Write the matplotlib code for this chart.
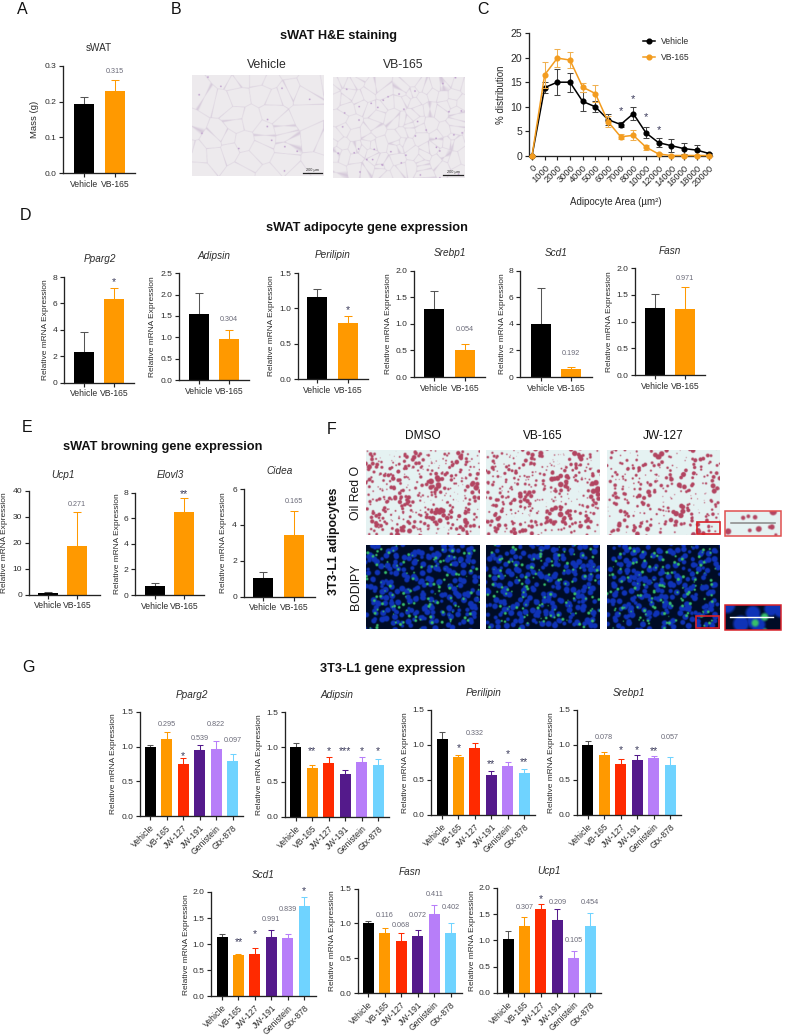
import numpy as np
import matplotlib
matplotlib.use("Agg")
import matplotlib.pyplot as plt
from matplotlib.patches import Rectangle
from matplotlib.lines import Line2D

plt.rcParams['font.family'] = ['Liberation Sans', 'DejaVu Sans']

W, H = 789, 1035
INK = '#2b2b2b'
NOTE = '#6a6a78'
STAR = '#3a3a5a'

# ---------- data ----------
two_groups = ['Vehicle', 'VB-165']
six_groups = ['Vehicle', 'VB-165', 'JW-127', 'JW-191', 'Genistein', 'Gtx-878']
two_colors = ['#000000', '#FF9900']
six_colors = ['#000000', '#FF9900', '#FF2A00', '#541A8B', '#B77EF9', '#6FD3FF']

area_labels = ['0', '1000', '2000', '3000', '4000', '5000', '6000', '7000', '8000',
               '10000', '12000', '14000', '16000', '18000', '20000']
veh_dist = [0, 13.9, 15, 15, 11.1, 10, 7.4, 6.4, 8.6, 4.7, 2.7, 2.1, 1.5, 1.2, 0.5]
veh_err = [0, 1.1, 2.7, 1.9, 2, 1.1, 1.2, 0.5, 1.3, 1.1, 0.9, 1.3, 1.1, 1, 0.2]
vb_dist = [0, 16.5, 19.9, 19.5, 14, 12.7, 7, 3.9, 4.2, 1.8, 0.4, 0.1, 0.1, 0.1, 0.1]
vb_err = [0, 2.6, 1.8, 1.7, 0.9, 1.7, 1.1, 0.5, 1, 0.5, 0.2, 0, 0, 0, 0]
dist_stars = [(7, 9.2), (8, 11.65), (9, 7.9), (10, 5.3)]

a_mass = [0.192, 0.23]
a_mass_top = [0.212, 0.26]

d_pparg2 = [2.3, 6.35]; d_pparg2_top = [3.8, 7.2]
d_adipsin = [1.54, 0.97]; d_adipsin_top = [2.05, 1.18]
d_perilipin = [1.16, 0.79]; d_perilipin_top = [1.28, 0.89]
d_srebp1 = [1.27, 0.5]; d_srebp1_top = [1.61, 0.62]
d_scd1 = [4.0, 0.62]; d_scd1_top = [6.67, 0.75]
d_fasn = [1.25, 1.23]; d_fasn_top = [1.52, 1.65]

e_ucp1 = [0.8, 18.7]; e_ucp1_top = [1.1, 32]
e_elovl3 = [0.7, 6.5]; e_elovl3_top = [0.9, 7.6]
e_cidea = [1.03, 3.42]; e_cidea_top = [1.35, 4.77]

g_pparg2 = [1, 1.11, 0.75, 0.95, 0.97, 0.8]; g_pparg2_top = [1.02, 1.21, 0.84, 1.02, 1.08, 0.9]
g_adipsin = [1, 0.7, 0.77, 0.62, 0.79, 0.75]; g_adipsin_top = [1.06, 0.75, 0.86, 0.67, 0.86, 0.83]
g_perilipin = [1.08, 0.82, 0.96, 0.57, 0.7, 0.6]; g_perilipin_top = [1.18, 0.85, 1.03, 0.63, 0.76, 0.65]
g_srebp1 = [1, 0.85, 0.72, 0.78, 0.81, 0.71]; g_srebp1_top = [1.05, 0.9, 0.8, 0.85, 0.84, 0.83]
g_scd1 = [1.13, 0.79, 0.81, 1.13, 1.11, 1.74]; g_scd1_top = [1.19, 0.81, 0.92, 1.27, 1.19, 1.9]
g_fasn = [1, 0.86, 0.75, 0.82, 1.13, 0.86]; g_fasn_top = [1.04, 0.93, 0.86, 0.9, 1.27, 1.01]
g_ucp1 = [1.03, 1.27, 1.6, 1.38, 0.66, 1.27]; g_ucp1_top = [1.17, 1.44, 1.7, 1.59, 0.8, 1.53]

# (category index, label, height on the value axis)
a_notes = [(1, '0.315', 0.284)]
d_pparg2_notes = [(1, '*', 7.6)]
d_adipsin_notes = [(1, '0.304', 1.41)]
d_perilipin_notes = [(1, '*', 0.97)]
d_srebp1_notes = [(1, '0.054', 0.885)]
d_scd1_notes = [(1, '0.192', 1.75)]
d_fasn_notes = [(1, '0.971', 1.81)]
e_ucp1_notes = [(1, '0.271', 34.8)]
e_elovl3_notes = [(1, '**', 7.9)]
e_cidea_notes = [(1, '0.165', 5.33)]
g_pparg2_notes = [(1, '0.295', 1.31), (2, '*', 0.87), (3, '0.539', 1.12), (4, '0.822', 1.31), (5, '0.097', 1.08)]
g_adipsin_notes = [(1, '**', 0.95), (2, '*', 0.95), (3, '***', 0.95), (4, '*', 0.95), (5, '*', 0.95)]
g_perilipin_notes = [(1, '*', 0.95), (2, '0.332', 1.17), (3, '**', 0.72), (4, '*', 0.87), (5, '**', 0.75)]
g_srebp1_notes = [(1, '0.078', 1.1), (2, '*', 0.92), (3, '*', 0.92), (4, '**', 0.91), (5, '0.057', 1.1)]
g_scd1_notes = [(1, '**', 1.04), (2, '*', 1.2), (3, '0.991', 1.47), (4, '0.839', 1.67), (5, '*', 2.02)]
g_fasn_notes = [(1, '0.116', 1.117), (2, '0.068', 0.97), (3, '0.072', 1.117), (4, '0.411', 1.42), (5, '0.402', 1.23)]
g_ucp1_notes = [(1, '0.307', 1.63), (2, '*', 1.78), (3, '0.209', 1.73), (4, '0.105', 1.0), (5, '0.454', 1.73)]

fig = plt.figure(figsize=(W / 100, H / 100), dpi=100, facecolor='white')

# full-figure overlay in pixel coordinates for headings and photo panels
ov = fig.add_axes([0, 0, 1, 1], zorder=5)
ov.set_xlim(0, W); ov.set_ylim(H, 0); ov.axis('off'); ov.patch.set_alpha(0)


def label(x, y, s, size=6.4, **kw):
    kw.setdefault('color', INK)
    ov.text(x, y, s, fontsize=size, ha=kw.pop('ha', 'center'), va=kw.pop('va', 'center'), **kw)


def new_axes(left, right, top, bottom):
    ax = fig.add_axes([left / W, 1 - bottom / H, (right - left) / W, (bottom - top) / H], zorder=2)
    ax.patch.set_alpha(0)
    for s in ['top', 'right']:
        ax.spines[s].set_visible(False)
    for s in ['left', 'bottom']:
        ax.spines[s].set_linewidth(0.95)
        ax.spines[s].set_color('#222222')
    ax.tick_params(width=0.85, length=3.2, labelsize=6.1, color='#222222', labelcolor=INK, pad=1.6)
    return ax


def bars(box, c0, c1, title, title_xy, ylab_x, ymax, yticks, groups, colors, vals, tops, notes,
         ylab='Relative mRNA Expression', ylab_size=6.0, title_size=7.2):
    left, right, top, bottom = box
    ax = new_axes(left, right, top, bottom)
    n = len(vals)
    d = (c1 - c0) / (n - 1)
    ax.set_xlim((left - c0) / d, (right - c0) / d)
    ax.set_ylim(0, ymax)
    width = 20.3 / d if n == 2 else 11 / d
    pos = np.arange(n)
    ax.bar(pos, vals, width=width, color=colors, zorder=2)
    for p, v, t, c in zip(pos, vals, tops, colors):
        col = '#555555' if c == '#000000' else c
        ax.errorbar(p, v, yerr=[[0], [t - v]], color=col, elinewidth=0.75, capsize=3.2 if n == 2 else 2.3,
                    capthick=0.75, zorder=1, clip_on=False)
    ax.set_xticks(pos)
    if n == 2:
        ax.set_xticklabels(groups, fontsize=6.2)
        ax.tick_params(axis='x', pad=1.6)
    else:
        ax.set_xticklabels(groups, fontsize=6.2, rotation=45, ha='right', rotation_mode='anchor')
        ax.tick_params(axis='x', pad=2)
    ax.set_yticks(yticks)
    ax.set_yticklabels([f'{t:g}' if ymax >= 4 else f'{t:.1f}' for t in yticks])
    for i, txt, y in notes:
        if txt.startswith('*'):
            ax.text(i, y, txt, ha='center', va='center', fontsize=7.6, color=STAR, clip_on=False)
        else:
            ax.text(i, y, txt, ha='center', va='center', fontsize=5.2, color=NOTE, clip_on=False)
    label(ylab_x, (top + bottom) / 2, ylab, size=ylab_size, rotation=90)
    label(title_xy[0], title_xy[1], title, size=title_size, style='normal' if title == 'sWAT' else 'italic')
    return ax


# ---------- stand-in textures for the micrographs (not chart data) ----------
def grid(w, h):
    y, x = np.mgrid[0:h * 2, 0:w * 2] / 2.0
    return x, y


def seeds(n, w, h, phase):
    k = np.arange(1, n + 1)
    s = 0.75 / np.sqrt(n)
    u = (k * 0.7548777 + phase) % 1 + s * np.sin(k * k * 1.7 + phase)
    v = (k * 0.5698403 + phase * 0.37) % 1 + s * np.sin(k * k * 2.3 + phase * 2)
    return u * w, v * h, k


def dists(x, y, sx, sy):
    return np.hypot(x[..., None] - sx, y[..., None] - sy)


def haze(x, y, wave, phase):
    out = np.zeros_like(x)
    for k in range(1, 13):
        th = k * 2.39996
        fr = 2 * np.pi / wave * (0.72 + 0.56 * ((k * 0.618034) % 1))
        out += np.sin(fr * (np.cos(th) * x + np.sin(th) * y) + k * k * 1.37 + phase)
    return out / np.sqrt(6)


def show(img, x0, x1, y0, y1):
    ov.imshow(np.clip(img, 0, 1), extent=(x0, x1, y1, y0), aspect='auto', zorder=1, interpolation='bilinear')


def he_photo(x0, x1, y0, y1, n, phase):
    w, h = int(x1 - x0), int(y1 - y0)
    x, y = grid(w, h)
    sx, sy, k = seeds(n, w, h, phase)
    d = np.sort(np.partition(dists(x, y, sx, sy), 1, axis=-1)[..., :2], axis=-1)
    edge = np.clip(1 - (d[..., 1] - d[..., 0]) / 0.8, 0, 1)[..., None]
    px, py, pk = seeds(n // 3, w, h, phase + 0.31)
    dd = dists(x, y, px, py).min(axis=-1)
    dots = np.clip((1.1 - dd) / 0.7, 0, 1)[..., None]
    img = np.array([0.93, 0.92, 0.93]) * (1 - edge) + np.array([0.83, 0.78, 0.85]) * edge
    img = img * (1 - dots) + np.array([0.70, 0.55, 0.77]) * dots
    show(img, x0, x1, y0, y1)


def red_photo(x0, x1, y0, y1, n, scale, phase):
    w, h = int(x1 - x0), int(y1 - y0)
    x, y = grid(w, h)
    sx, sy, k = seeds(n, w, h, phase)
    r = scale * (0.7 + 1.1 * np.abs(np.sin(k * k * 0.9 + phase)))
    d = (dists(x, y, sx, sy) - r).min(axis=-1)
    m = np.clip((0.35 * scale + 0.55 * haze(x, y, 34, phase) - d) / (0.9 * scale), 0, 1)[..., None]
    img = np.array([0.90, 0.95, 0.95]) * (1 - m) + np.array([0.70, 0.27, 0.38]) * m
    show(img, x0, x1, y0, y1)


def blue_photo(x0, x1, y0, y1, n, scale, phase):
    w, h = int(x1 - x0), int(y1 - y0)
    x, y = grid(w, h)
    sx, sy, k = seeds(n, w, h, phase)
    r = scale * (1.7 + 1.4 * np.abs(np.sin(k * k * 1.1 + phase)))
    d = (dists(x, y, sx, sy) - r).min(axis=-1)
    b = np.clip((0.5 * scale - d) / (1.2 * scale), 0, 1)[..., None]
    gx, gy, gk = seeds(max(n // 2, 2), w, h, phase + 0.17)
    gr = scale * (0.6 + 1.1 * np.abs(np.sin(gk * gk * 0.7 + phase)))
    gd = (dists(x, y, gx, gy) - gr).min(axis=-1)
    g = np.clip((0.3 * scale - gd) / (1.0 * scale), 0, 1)[..., None]
    img = np.array([0.0, 0.05, 0.15]) * (1 - b) + np.array([0.06, 0.20, 0.72]) * b
    img = img * (1 - g) + np.array([0.22, 0.75, 0.42]) * g
    show(img, x0, x1, y0, y1)


# ---------- panel letters and headings ----------
for s, x, y in [('A', 22, 10), ('B', 176, 10), ('C', 483, 10), ('D', 26, 215),
                ('E', 27, 428), ('F', 332, 429), ('G', 29, 668)]:
    label(x, y, s, size=11.5, color='#111111')
label(339, 36, 'sWAT H&E staining', size=9.2, weight='bold', color='#111111')
label(367, 228, 'sWAT adipocyte gene expression', size=9.2, weight='bold', color='#111111')
label(163, 447, 'sWAT browning gene expression', size=9.2, weight='bold', color='#111111')
label(393, 669, '3T3-L1 gene expression', size=9.2, weight='bold', color='#111111')

# ---------- A ----------
bars((62.7, 135, 65.7, 173.3), 84, 115, 'sWAT', (99, 48), 34.3, 0.3, [0, 0.1, 0.2, 0.3],
     two_groups, two_colors, a_mass, a_mass_top, a_notes, ylab='Mass (g)', ylab_size=6.8)

# ---------- B ----------
he_photo(191.7, 323.3, 76, 176.3, 50, 0.13)
he_photo(332.7, 464, 77, 177.7, 130, 0.41)
label(267, 65, 'Vehicle', size=8.8)
label(403, 65, 'VB-165', size=8.8)
for x0, x1, y in [(302.7, 321.7, 173.3), (443, 463, 174.7)]:
    ov.plot([x0, x1], [y, y], color='#222222', lw=0.9, zorder=3)
    label((x0 + x1) / 2, y - 3, '200 µm', size=2.8, zorder=3)

# ---------- C ----------
ax = new_axes(528.7, 711.7, 33, 156)
dx = (709.3 - 532) / 14
ax.set_xlim((528.7 - 532) / dx, (711.7 - 532) / dx)
ax.set_ylim(0, 25)
xs = np.arange(len(area_labels))
ax.errorbar(xs, veh_dist, yerr=veh_err, color='black', ecolor='#444444', lw=1.1, elinewidth=0.75, capsize=2.3,
            capthick=0.75, marker='o', ms=3.4, clip_on=False, zorder=3)
ax.errorbar(xs, vb_dist, yerr=vb_err, color='#F39C1F', ecolor='#F0B050', lw=1.1, elinewidth=0.75, capsize=2.3,
            capthick=0.75, marker='o', ms=3.4, clip_on=False, zorder=4)
for i, y in dist_stars:
    ax.text(i, y, '*', ha='center', va='center', fontsize=8, color=STAR)
ax.set_xticks(xs)
ax.set_xticklabels(area_labels, rotation=45, ha='right', rotation_mode='anchor', fontsize=6.7)
ax.set_yticks([0, 5, 10, 15, 20, 25])
ax.tick_params(axis='y', labelsize=7.6)
ax.tick_params(axis='x', pad=2)
handles = [Line2D([], [], color='black', lw=1.1, marker='o', ms=3.4),
           Line2D([], [], color='#F39C1F', lw=1.1, marker='o', ms=3.4)]
ax.legend(handles, two_groups, loc='upper left', bbox_to_anchor=((643 - 528.7) / 183, (156 - 37) / 123),
          frameon=False, fontsize=6.2, handlelength=1.4, labelspacing=0.78, handletextpad=0.66,
          borderpad=0, borderaxespad=0, labelcolor=INK)
label(501, 94.3, '% distribution', size=7.0, rotation=90)
label(616, 202, 'Adipocyte Area (µm²)', size=7)

# ---------- D ----------
bars((64.3, 134.3, 277, 382.7), 84, 114.3, 'Pparg2', (99.7, 259), 46, 8, [0, 2, 4, 6, 8],
     two_groups, two_colors, d_pparg2, d_pparg2_top, d_pparg2_notes)
bars((178.7, 249, 273.3, 380), 198.7, 229.3, 'Adipsin', (214, 255.7), 152.7, 2.5, [0, 0.5, 1, 1.5, 2, 2.5],
     two_groups, two_colors, d_adipsin, d_adipsin_top, d_adipsin_notes)
bars((297.7, 368.3, 273, 379), 317.3, 348, 'Perilipin', (332.7, 255), 271.7, 1.5, [0, 0.5, 1, 1.5],
     two_groups, two_colors, d_perilipin, d_perilipin_top, d_perilipin_notes)
bars((414.3, 485, 270.7, 377), 434.3, 465, 'Srebp1', (450, 253), 389, 2, [0, 0.5, 1, 1.5, 2],
     two_groups, two_colors, d_srebp1, d_srebp1_top, d_srebp1_notes)
bars((520.3, 591.7, 270.7, 377), 540.7, 571.3, 'Scd1', (556.3, 253), 502.3, 8, [0, 2, 4, 6, 8],
     two_groups, two_colors, d_scd1, d_scd1_top, d_scd1_notes)
bars((634.7, 705, 268, 375), 655, 685.3, 'Fasn', (670, 251), 609.3, 2, [0, 0.5, 1, 1.5, 2],
     two_groups, two_colors, d_fasn, d_fasn_top, d_fasn_notes)

# ---------- E ----------
bars((28.7, 100, 490.7, 594.7), 47.7, 77.3, 'Ucp1', (62.7, 474.7), 4.5, 40, [0, 10, 20, 30, 40],
     two_groups, two_colors, e_ucp1, e_ucp1_top, e_ucp1_notes)
bars((135, 204.3, 492.7, 595), 155, 184.3, 'Elovl3', (170, 475), 117.3, 8, [0, 2, 4, 6, 8],
     two_groups, two_colors, e_elovl3, e_elovl3_top, e_elovl3_notes)
bars((243.7, 315, 489, 596.7), 263.3, 294.3, 'Cidea', (279.3, 471.3), 224, 6, [0, 2, 4, 6],
     two_groups, two_colors, e_cidea, e_cidea_top, e_cidea_notes)

# ---------- F ----------
cols = [(366.3, 479.7), (486, 599.3), (606.7, 719.3)]
for (x0, x1), name, ph, nr in zip(cols, ['DMSO', 'VB-165', 'JW-127'], [0.11, 0.47, 0.83], [420, 380, 300]):
    red_photo(x0, x1, 450.7, 535.3, nr, 1.0, ph)
    blue_photo(x0, x1, 545, 629, 260, 1.0, ph + 0.2)
    label((x0 + x1) / 2, 436, name, size=8.6, color='#111111')
label(355.7, 493, 'Oil Red O', size=8.8, rotation=90, color='#111111')
label(355.7, 587, 'BODIPY', size=8.8, rotation=90, color='#111111')
label(334, 541.7, '3T3-L1 adipocytes', size=8.8, rotation=90, weight='bold', color='#111111')
for x0, x1, y0, y1 in [(697.3, 720, 522, 534.3), (695.7, 719, 615.7, 628.3)]:
    ov.add_patch(Rectangle((x0, y0), x1 - x0, y1 - y0, fill=False, ec='#D8232A', lw=1.2, zorder=4))
red_photo(725, 781, 511, 536, 12, 1.6, 0.7)
blue_photo(725, 781, 605.3, 630, 9, 2.6, 0.3)
ov.add_patch(Rectangle((725, 511), 56, 25, fill=False, ec='#E05050', lw=1.1, zorder=4))
ov.add_patch(Rectangle((725, 605.3), 56, 24.7, fill=False, ec='#D8232A', lw=1.1, zorder=4))
ov.plot([730.7, 775], [522.7, 522.7], color='#888888', lw=1.1, zorder=4)
ov.plot([730, 773], [617.3, 617.3], color='white', lw=1.0, zorder=4)
ov.set_xlim(0, W); ov.set_ylim(H, 0)

# ---------- G ----------
gt = [0, 0.5, 1, 1.5]
bars((140, 243.3, 711.7, 816.3), 150, 232.7, 'Pparg2', (191.7, 695), 114, 1.5, gt,
     six_groups, six_colors, g_pparg2, g_pparg2_top, g_pparg2_notes)
bars((285, 389.3, 712.3, 816.7), 295.7, 378, 'Adipsin', (336.7, 695), 260, 1.5, gt,
     six_groups, six_colors, g_adipsin, g_adipsin_top, g_adipsin_notes)
bars((431.3, 535.3, 710, 814.7), 442, 524.3, 'Perilipin', (483.3, 692.7), 406, 1.5, gt,
     six_groups, six_colors, g_perilipin, g_perilipin_top, g_perilipin_notes)
bars((577, 681, 710, 814.7), 587.7, 670, 'Srebp1', (629, 692.7), 551.7, 1.5, gt,
     six_groups, six_colors, g_srebp1, g_srebp1_top, g_srebp1_notes)
bars((211.3, 315.7, 892, 996.3), 222, 304.3, 'Scd1', (263.3, 875), 186.3, 2, [0, 0.5, 1, 1.5, 2],
     six_groups, six_colors, g_scd1, g_scd1_top, g_scd1_notes)
bars((357.7, 461.7, 888.7, 993), 368.3, 450.7, 'Fasn', (409.7, 871.7), 332.3, 1.5, gt,
     six_groups, six_colors, g_fasn, g_fasn_top, g_fasn_notes)
bars((497.3, 601.3, 888, 992.7), 508, 590.3, 'Ucp1', (549, 871), 472.3, 2, [0, 0.5, 1, 1.5, 2],
     six_groups, six_colors, g_ucp1, g_ucp1_top, g_ucp1_notes)

fig.savefig('out.png', dpi=100, facecolor='white')
